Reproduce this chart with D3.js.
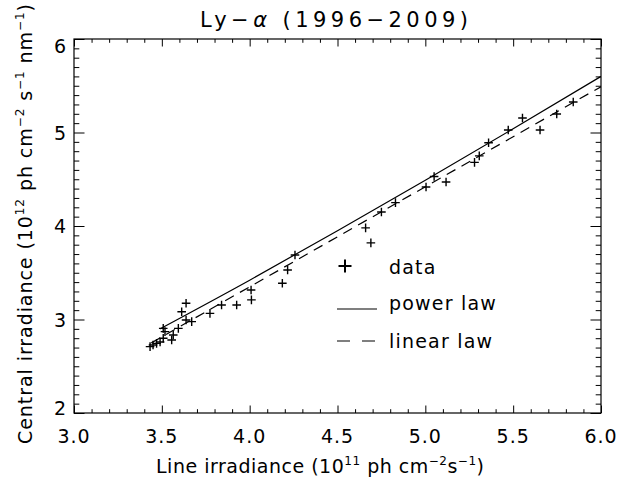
<!DOCTYPE html>
<html>
<head>
<meta charset="utf-8">
<script src="https://cdn.jsdelivr.net/npm/d3@7"></script>
<style>
  html, body { margin: 0; padding: 0; background: #fff; }
  svg { display: block; }
  text { font-family: "DejaVu Sans", sans-serif; fill: #000; }
</style>
</head>
<body>
<svg id="chart" width="638" height="479"></svg>
<script>
// ---- data ----
const xData = [3.433, 3.45, 3.47, 3.49, 3.508, 3.508, 3.518, 3.556, 3.565, 3.594, 3.638, 3.613, 3.638, 3.67,
               3.774, 3.84, 3.926, 4.008, 4.01, 4.186, 4.216, 4.258, 4.66, 4.69, 4.75, 4.83,
               5.004, 5.05, 5.118, 5.28, 5.307, 5.36, 5.472, 5.553, 5.653, 5.748, 5.842];
const yData = [2.71, 2.727, 2.745, 2.76, 2.80, 2.905, 2.87, 2.78, 2.834, 2.905, 3.173, 3.083, 2.995, 2.977,
               3.066, 3.155, 3.155, 3.316, 3.21, 3.387, 3.53, 3.69, 3.98, 3.82, 4.15, 4.25,
               4.417, 4.53, 4.47, 4.68, 4.75, 4.89, 5.027, 5.155, 5.027, 5.198, 5.326];

// fitted curves, points
const powerX = [3.49, 4.0, 4.5, 5.0, 5.5, 6.0];
const powerY = [2.90, 3.42, 3.95, 4.49, 5.04, 5.60];
const linearX = [3.44, 6.0];
const linearY = [2.75, 5.49];

const xMajor = [3.0, 3.5, 4.0, 4.5, 5.0, 5.5, 6.0];
const xTickLabels = ["3.0", "3.5", "4.0", "4.5", "5.0", "5.5", "6.0"];
const yMajor = [2, 3, 4, 5, 6];
const yTickLabels = ["2", "3", "4", "5", "6"];

const legendLabels = ["data", "power law", "linear law"];

// ---- layout ----
const L = 74, R = 601, T = 39, B = 413;
const svg = d3.select("#chart");

const x = d3.scaleLinear().domain([3.0, 6.0]).range([L, R]);
const y = d3.scaleLinear().domain([2, 6]).range([B, T]);

const xMinor = d3.range(30, 61).map(v => v / 10).filter(v => !xMajor.some(m => Math.abs(m - v) < 1e-6));
const yMinor = d3.range(20, 61).map(v => v / 10).filter(v => !yMajor.some(m => Math.abs(m - v) < 1e-6));

const xMajLen = 7.5, xMinLen = 3.8, yMajLen = 10.5, yMinLen = 5.3;

function addAxis(gen, tx, ty) {
  const g = svg.append("g").attr("transform", `translate(${tx},${ty})`).call(gen);
  g.select(".domain").remove();
  g.selectAll("line").attr("stroke", "#000").attr("stroke-width", 1);
  g.selectAll("text").remove();
  return g;
}
// bottom & top
addAxis(d3.axisBottom(x).tickValues(xMajor).tickSize(-xMajLen).tickFormat(""), 0, B);
addAxis(d3.axisBottom(x).tickValues(xMinor).tickSize(-xMinLen).tickFormat(""), 0, B);
addAxis(d3.axisTop(x).tickValues(xMajor).tickSize(-xMajLen).tickFormat(""), 0, T);
addAxis(d3.axisTop(x).tickValues(xMinor).tickSize(-xMinLen).tickFormat(""), 0, T);
// left & right
addAxis(d3.axisLeft(y).tickValues(yMajor).tickSize(-yMajLen).tickFormat(""), L, 0);
addAxis(d3.axisLeft(y).tickValues(yMinor).tickSize(-yMinLen).tickFormat(""), L, 0);
addAxis(d3.axisRight(y).tickValues(yMajor).tickSize(-yMajLen).tickFormat(""), R, 0);
addAxis(d3.axisRight(y).tickValues(yMinor).tickSize(-yMinLen).tickFormat(""), R, 0);

// frame
svg.append("rect").attr("x", L).attr("y", T).attr("width", R - L).attr("height", B - T)
  .attr("fill", "none").attr("stroke", "#000").attr("stroke-width", 1.2);

// tick labels
const FS = 19;
svg.append("g").selectAll("text").data(xMajor).join("text")
  .attr("x", d => x(d)).attr("y", 443)
  .attr("text-anchor", "middle").attr("font-size", FS).attr("letter-spacing", 1)
  .text((d, i) => xTickLabels[i]);
svg.append("g").selectAll("text").data(yMajor).join("text")
  .attr("x", 66).attr("y", d => Math.min(Math.max(y(d), T + 6.5), B - 5) + 7)
  .attr("text-anchor", "end").attr("font-size", FS)
  .text((d, i) => yTickLabels[i]);

// clip for curves
svg.append("clipPath").attr("id", "clip").append("rect")
  .attr("x", L).attr("y", T).attr("width", R - L).attr("height", B - T);

const line = d3.line().x(d => x(d[0])).y(d => y(d[1])).curve(d3.curveMonotoneX);
svg.append("path").datum(powerX.map((v, i) => [v, powerY[i]]))
  .attr("d", line).attr("fill", "none").attr("stroke", "#000").attr("stroke-width", 1.2)
  .attr("clip-path", "url(#clip)");
svg.append("path").datum(linearX.map((v, i) => [v, linearY[i]]))
  .attr("d", d3.line().x(d => x(d[0])).y(d => y(d[1])))
  .attr("fill", "none").attr("stroke", "#000").attr("stroke-width", 1.2)
  .attr("stroke-dasharray", "10,7").attr("clip-path", "url(#clip)");

// data symbols
const s = 4.3;
const pts = svg.append("g");
xData.forEach((v, i) => {
  const cx = x(v), cy = y(yData[i]);
  pts.append("path").attr("d", `M${cx - s},${cy}H${cx + s}M${cx},${cy - s}V${cy + s}`)
    .attr("stroke", "#000").attr("stroke-width", 1.4).attr("fill", "none");
});

// legend
const lg = svg.append("g");
lg.append("path").attr("d", `M${345 - 6.5},266H${345 + 6.5}M345,${266 - 6.5}V${266 + 6.5}`)
  .attr("stroke", "#000").attr("stroke-width", 2);
lg.append("line").attr("x1", 337).attr("x2", 377).attr("y1", 309).attr("y2", 309)
  .attr("stroke", "#000").attr("stroke-width", 1.2);
lg.append("line").attr("x1", 337).attr("x2", 377).attr("y1", 341).attr("y2", 341)
  .attr("stroke", "#000").attr("stroke-width", 1.2).attr("stroke-dasharray", "13,12");
const legY = [274, 310, 348];
legendLabels.forEach((t, i) => {
  lg.append("text").attr("x", 389).attr("y", legY[i]).attr("font-size", FS)
    .attr("letter-spacing", 1.2).text(t);
});

// title
const title = svg.append("text").attr("x", 334).attr("y", 27).attr("text-anchor", "middle")
  .attr("font-size", 21).attr("textLength", 268).attr("lengthAdjust", "spacing");
title.append("tspan").text("Ly\u2212");
title.append("tspan").attr("font-style", "italic").text("\u03b1");
title.append("tspan").text(" (1996\u22122009)");

// x axis label
const SUP = 12;
const xl = svg.append("text").attr("x", 320).attr("y", 473).attr("text-anchor", "middle")
  .attr("font-size", FS).attr("textLength", 328).attr("lengthAdjust", "spacing");
xl.append("tspan").text("Line irradiance (10");
xl.append("tspan").attr("font-size", SUP).attr("dy", -8).text("11");
xl.append("tspan").attr("dy", 8).text(" ph cm");
xl.append("tspan").attr("font-size", SUP).attr("dy", -8).text("\u22122");
xl.append("tspan").attr("dy", 8).text("s");
xl.append("tspan").attr("font-size", SUP).attr("dy", -8).text("\u22121");
xl.append("tspan").attr("dy", 8).text(")");

// y axis label
const yl = svg.append("text").attr("transform", "translate(32,224) rotate(-90)")
  .attr("text-anchor", "middle").attr("font-size", FS).attr("textLength", 440).attr("lengthAdjust", "spacing");
yl.append("tspan").text("Central irradiance (10");
yl.append("tspan").attr("font-size", SUP).attr("dy", -8).text("12");
yl.append("tspan").attr("dy", 8).text(" ph cm");
yl.append("tspan").attr("font-size", SUP).attr("dy", -8).text("\u22122");
yl.append("tspan").attr("dy", 8).text(" s");
yl.append("tspan").attr("font-size", SUP).attr("dy", -8).text("\u22121");
yl.append("tspan").attr("dy", 8).text(" nm");
yl.append("tspan").attr("font-size", SUP).attr("dy", -8).text("\u22121");
yl.append("tspan").attr("dy", 8).text(")");
</script>
</body>
</html>
